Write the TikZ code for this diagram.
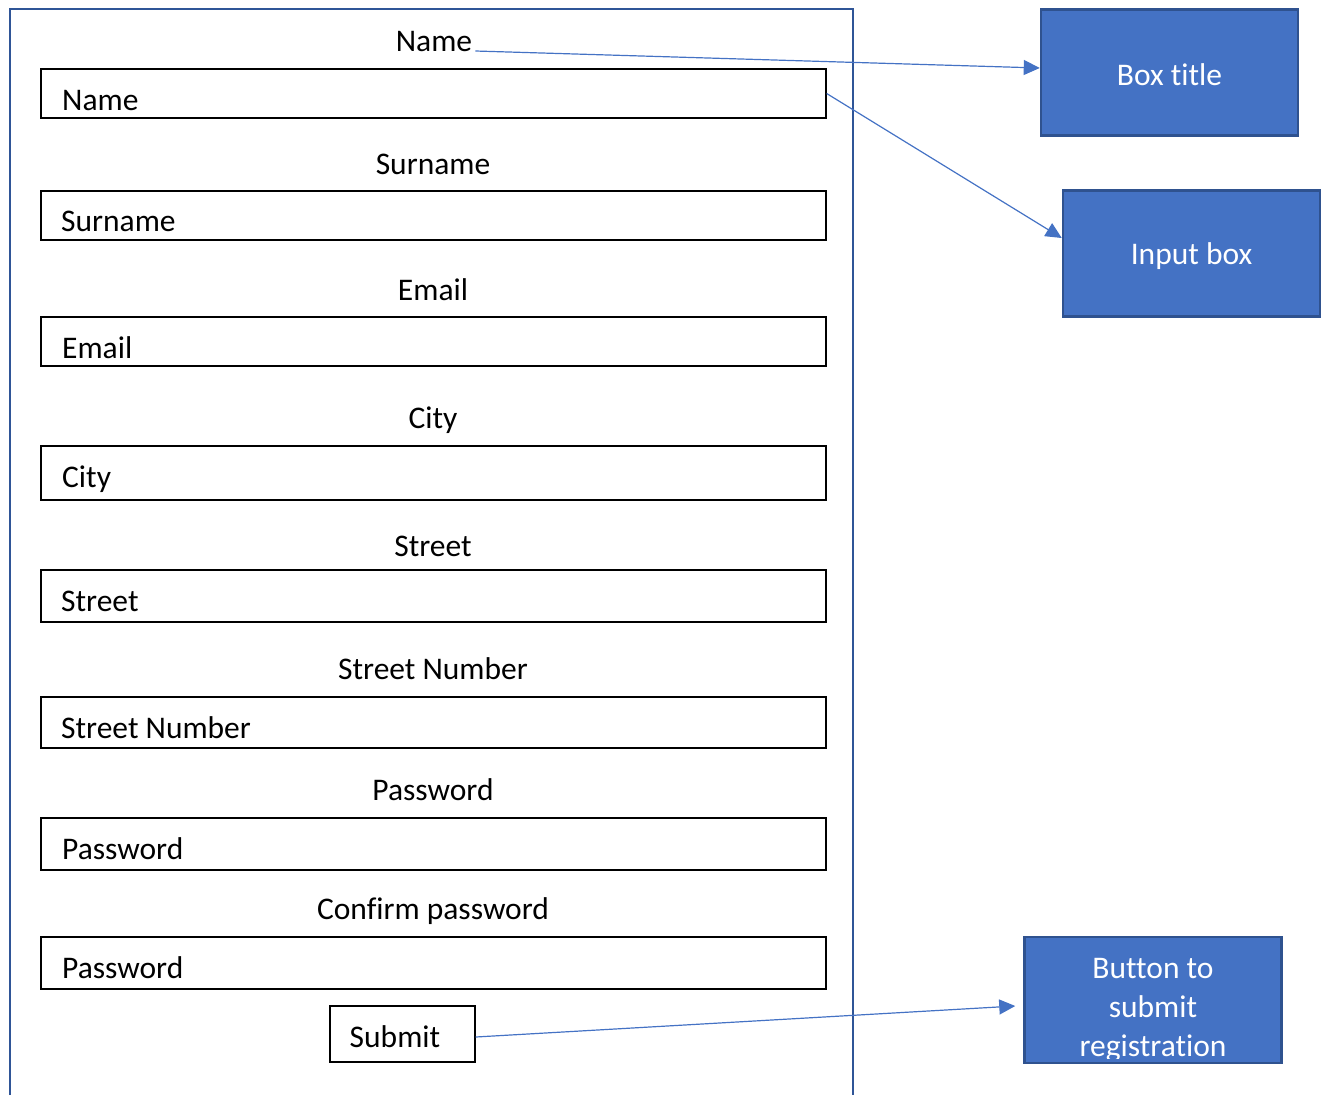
\documentclass[tikz,border=0pt]{standalone}
\usepackage{fontspec}
\setmainfont{Carlito}[Ligatures={NoCommon}]
\usetikzlibrary{arrows.meta}
\definecolor{accent}{HTML}{4472C4}
\definecolor{accentdark}{HTML}{2F528F}
\definecolor{framecol}{HTML}{2F5597}
\tikzset{
  inbox/.style={draw=black, line width=1.3pt, minimum width=785pt, minimum height=#1, inner sep=0pt},
  inbox/.default=50pt,
  lbl/.style={anchor=base, inner sep=0pt, font=\fontsize{31.5}{39}\selectfont},
  intxt/.style={anchor=base west, inner sep=0pt, font=\fontsize{31.5}{39}\selectfont},
  bluebox/.style={draw=accentdark, fill=accent, line width=2.5pt, minimum width=257pt, minimum height=126pt, inner sep=0pt},
  whitetxt/.style={text=white, font=\fontsize{31.5}{39}\selectfont, align=center, inner sep=0pt},
  conn/.style={draw=accent, line width=1.2pt, -{Triangle[length=16pt,width=15pt]}}
}
\begin{document}
\begin{tikzpicture}[x=1pt,y=-1pt]
\useasboundingbox (0,0) rectangle (1330,1095);
% outer frame
\draw[framecol, line width=2.6pt] (10,1095) -- (10,9) -- (853,9) -- (853,1095);

% labels and input boxes
\node[lbl] (l1) at (434,51) {Name};
\node[inbox=49pt] (b1) at (433.5,93.5) {};
\node[intxt] (t1) at (62,110) {Name};

\node[lbl] (l2) at (433,174) {Surname};
\node[inbox=49pt] (b2) at (433.5,215.5) {};
\node[intxt] (t2) at (61,231) {Surname};

\node[lbl] (l3) at (433,300) {Email};
\node[inbox=49pt] (b3) at (433.5,341.5) {};
\node[intxt] (t3) at (62,358) {Email};

\node[lbl] (l4) at (433,428) {City};
\node[inbox=54pt] (b4) at (433.5,473) {};
\node[intxt] (t4) at (62,487) {City};

\node[lbl] (l5) at (433,556) {Street};
\node[inbox=52pt] (b5) at (433.5,596) {};
\node[intxt] (t5) at (61,611) {Street};

\node[lbl] (l6) at (433,679) {Street Number};
\node[inbox=51pt] (b6) at (433.5,722.5) {};
\node[intxt] (t6) at (61,738) {Street Number};

\node[lbl] (l7) at (433,800) {Password};
\node[inbox=52pt] (b7) at (433.5,844) {};
\node[intxt] (t7) at (62,859) {Password};

\node[lbl] (l8) at (433,919) {Confirm password};
\node[inbox=52pt] (b8) at (433.5,963) {};
\node[intxt] (t8) at (62,978) {Password};

% submit button
\node[draw=black, line width=1.3pt, minimum width=145pt, minimum height=56pt, inner sep=0pt] (sb) at (402.5,1034) {};
\node[lbl] (st) at (395,1047) {Submit};

% annotation boxes
\node[bluebox] (bt) at (1169.5,72.5) {};
\node[whitetxt, yshift=-2pt] at (bt.center) {Box title};
\node[bluebox] (ib) at (1191.5,253.5) {};
\node[whitetxt, yshift=-3pt] at (ib.center) {Input box};
\node[bluebox] (bb) at (1153,1000) {};
\begin{scope}
  \clip (1026,939) rectangle (1280,1058);
  \node[whitetxt, anchor=base] at (1153,1056) {Button to\\submit\\registration};
\end{scope}

% connectors
\draw[conn] ([xshift=3pt]l1.base east) -- ([yshift=4.5pt]bt.west);
\draw[conn] (b1.east) -- ([yshift=15.5pt]ib.west);
\draw[conn] ([yshift=-3pt]sb.east) -- ([xshift=-8pt,yshift=-6pt]bb.west);
\end{tikzpicture}
\end{document}
